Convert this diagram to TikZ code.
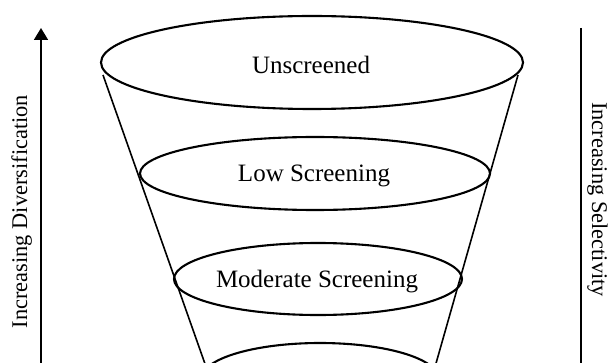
\documentclass[tikz,border=0pt]{standalone}
\usepackage{fontspec}
\setmainfont{Liberation Serif}
\usetikzlibrary{arrows.meta,shapes.geometric}
\tikzset{
  tier/.style={ellipse, draw, line width=2.1pt, inner sep=0pt, fill=none},
  tierlabel/.style={anchor=base, inner sep=0pt, font=\fontsize{25}{30}\selectfont},
  sidelabel/.style={anchor=base, inner sep=0pt, font=\fontsize{22.4}{27}\selectfont},
  funnel/.style={line width=1.6pt},
  axis/.style={line width=1.8pt}
}
\begin{document}
\begin{tikzpicture}[x=1pt,y=-1pt]
\useasboundingbox (0,0) rectangle (609,363);
\clip (0,0) rectangle (609,363);
% funnel sides
\coordinate (lt) at (103,75);
\coordinate (lb) at (216,395);
\coordinate (rt) at (518,75);
\coordinate (rb) at (427,395);
\draw[funnel] (lt) -- (lb);
\draw[funnel] (rt) -- (rb);
% tiers
\node[tier, fill=white, minimum width=422pt, minimum height=93pt] (e1) at (312,62.5) {};
\node[tier, minimum width=350pt, minimum height=73pt] (e2) at (315,173.5) {};
\node[tier, minimum width=288pt, minimum height=72pt] (e3) at (318,279) {};
\node[tier, minimum width=236pt, minimum height=70pt] (e4) at (320,378) {};
\node[tierlabel] (t1) at (311,74) {Unscreened};
\node[tierlabel] (t2) at (314,182) {Low Screening};
\node[tierlabel] (t3) at (317,287) {Moderate Screening};
% left axis
\coordinate (la0) at (41,370);
\coordinate (la1) at (41,28);
\draw[axis, -{Triangle[width=14pt,length=12pt]}] (la0) -- (la1);
\node[sidelabel, rotate=90] (ld) at (27,211.5) {Increasing Diversification};
% right axis
\coordinate (ra0) at (581,28);
\coordinate (ra1) at (581,370);
\draw[axis] (ra0) -- (ra1);
\node[sidelabel, rotate=-90] (rs) at (592,199.5) {Increasing Selectivity};
\end{tikzpicture}
\end{document}
